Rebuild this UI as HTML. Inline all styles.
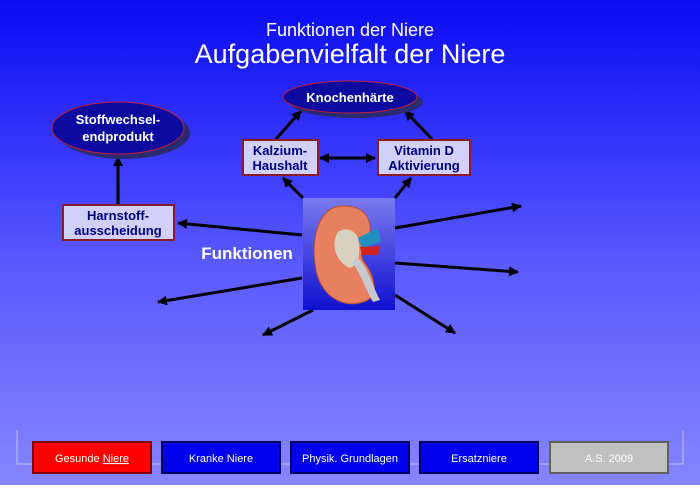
<!DOCTYPE html>
<html><head><style>
body{margin:0;width:700px;height:485px;overflow:hidden;font-family:"Liberation Sans",sans-serif}
</style></head><body>
<svg width="700" height="485" xmlns="http://www.w3.org/2000/svg">
<defs>
<linearGradient id="bg" x1="0" y1="0" x2="0" y2="1">
<stop offset="0" stop-color="#0a0af5"/><stop offset="0.55" stop-color="#5a5aff"/><stop offset="1" stop-color="#8585ff"/></linearGradient>
<linearGradient id="kb" x1="0" y1="0" x2="0" y2="1">
<stop offset="0" stop-color="#7a7af0"/><stop offset="1" stop-color="#1010d0"/></linearGradient>
<marker id="a" markerWidth="10" markerHeight="10" refX="9" refY="5" orient="auto" markerUnits="userSpaceOnUse"><path d="M0,0 L10,5 L0,10 z" fill="#000"/></marker>
<marker id="s" markerWidth="10" markerHeight="10" refX="1" refY="5" orient="auto" markerUnits="userSpaceOnUse"><path d="M10,0 L0,5 L10,10 z" fill="#000"/></marker>
</defs>
<rect width="700" height="485" fill="url(#bg)"/>
<text x="350" y="36" text-anchor="middle" fill="#fff" font-size="18">Funktionen der Niere</text>
<text x="350" y="63" text-anchor="middle" fill="#fff" font-size="27">Aufgabenvielfalt der Niere</text>
<g stroke="#000" stroke-width="3" fill="none">
<line x1="118" y1="204" x2="118" y2="157" marker-end="url(#a)"/>
<line x1="302" y1="235" x2="178" y2="223" marker-end="url(#a)"/>
<line x1="302" y1="278" x2="158" y2="302" marker-end="url(#a)"/>
<line x1="313" y1="310" x2="263" y2="335" marker-end="url(#a)"/>
<line x1="395" y1="228" x2="521" y2="206" marker-end="url(#a)"/>
<line x1="395" y1="263" x2="518" y2="272" marker-end="url(#a)"/>
<line x1="395" y1="295" x2="455" y2="333" marker-end="url(#a)"/>
<line x1="303" y1="198" x2="283" y2="178" marker-end="url(#a)"/>
<line x1="395" y1="198" x2="411" y2="178" marker-end="url(#a)"/>
<line x1="276" y1="139" x2="301" y2="111" marker-end="url(#a)"/>
<line x1="432" y1="139" x2="405" y2="111" marker-end="url(#a)"/>
<line x1="320" y1="158" x2="375" y2="158" marker-end="url(#a)" marker-start="url(#s)"/>
</g>
<ellipse cx="124" cy="133" rx="66" ry="26" fill="#2a2a70"/>
<ellipse cx="118" cy="128" rx="66" ry="26" fill="#0a0aa0" stroke="#c02040" stroke-width="1"/>
<text x="118" y="124" text-anchor="middle" fill="#fff" font-size="13" font-weight="bold">Stoffwechsel-</text>
<text x="118" y="141" text-anchor="middle" fill="#fff" font-size="13" font-weight="bold">endprodukt</text>
<ellipse cx="356" cy="102" rx="67" ry="16" fill="#2a2a70"/>
<ellipse cx="350" cy="97" rx="67" ry="16" fill="#0a0aa0" stroke="#c02040" stroke-width="1"/>
<text x="350" y="102" text-anchor="middle" fill="#fff" font-size="13" font-weight="bold">Knochenhärte</text>
<g fill="#d0d0f8" stroke="#8b1a2a" stroke-width="2">
<rect x="63" y="205" width="111" height="35"/>
<rect x="243" y="140" width="75" height="35"/>
<rect x="378" y="140" width="92" height="35"/>
</g>
<g fill="#000080" font-size="13" font-weight="bold" text-anchor="middle">
<text x="118" y="220">Harnstoff-</text><text x="118" y="235">ausscheidung</text>
<text x="280" y="155">Kalzium-</text><text x="280" y="170">Haushalt</text>
<text x="424" y="155">Vitamin D</text><text x="424" y="170">Aktivierung</text>
</g>
<text x="247" y="259" text-anchor="middle" fill="#fff" font-size="17" font-weight="bold">Funktionen</text>
<rect x="303" y="198" width="92" height="112" fill="url(#kb)"/>
<path d="M345,206 C318,204 310,240 316,270 C322,300 348,310 368,300 C380,292 372,272 364,262 C356,250 372,240 370,226 C368,212 358,206 345,206 z" fill="#e88060" stroke="#b05030"/>
<path d="M338,232 C330,245 336,262 350,268 C362,264 360,245 357,236 C352,228 343,228 338,232z" fill="#d8d0c0"/>
<path d="M358,238 L378,228 L381,242 L362,248z" fill="#2090c0"/>
<path d="M360,247 L380,246 L378,255 L362,255z" fill="#d02020"/>
<path d="M358,258 C368,268 372,285 380,300 L373,302 C365,288 360,272 352,262z" fill="#c8c8d0"/>
<path d="M17,430 V464 H683 V430" fill="none" stroke="#c0c0f0" stroke-width="1"/>
<g stroke-width="2">
<rect x="33" y="442" width="118" height="31" fill="#ff0000" stroke="#800000"/>
<rect x="162" y="442" width="118" height="31" fill="#0000ee" stroke="#000060"/>
<rect x="291" y="442" width="118" height="31" fill="#0000ee" stroke="#000060"/>
<rect x="420" y="442" width="118" height="31" fill="#0000ee" stroke="#000060"/>
<rect x="550" y="442" width="118" height="31" fill="#c0c0c0" stroke="#606060"/>
</g>
<g fill="#fff" font-size="11" text-anchor="middle">
<text x="92" y="462">Gesunde <tspan text-decoration="underline">Niere</tspan></text>
<text x="221" y="462">Kranke Niere</text>
<text x="350" y="462">Physik. Grundlagen</text>
<text x="479" y="462">Ersatzniere</text>
<text x="609" y="462">A.S. 2009</text>
</g>
</svg>
</body></html>
